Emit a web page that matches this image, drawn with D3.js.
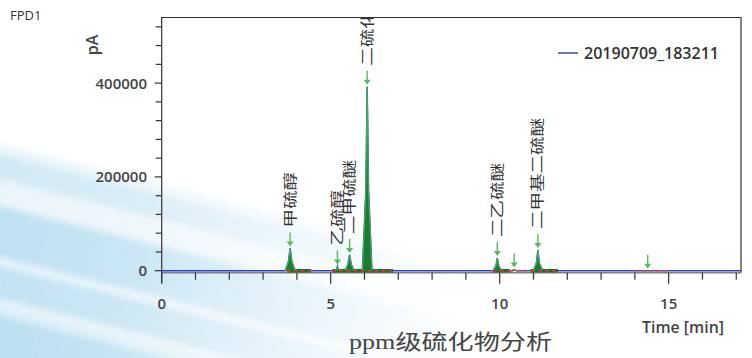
<!DOCTYPE html>
<html><head><meta charset="utf-8">
<script src="https://cdn.jsdelivr.net/npm/d3@7"></script>
<style>
html,body{margin:0;padding:0;background:#fff;}
svg{display:block;}
</style></head>
<body>
<svg id="chart" width="752" height="358"></svg>
<script>
// ---------- data ----------
const signalTimes  = [0, 3.66, 3.75, 3.80, 3.85, 3.95, 5.12, 5.18, 5.20, 5.22, 5.29, 5.43, 5.51, 5.56, 5.61, 5.69, 5.94, 6.04, 6.08, 6.12, 6.22, 9.81, 9.89, 9.93, 9.97, 10.05, 10.37, 10.43, 10.49, 11.00, 11.09, 11.13, 11.17, 11.27, 17.14];
const signalValues = [0, 0, 19000, 47500, 19000, 0, 0, 3500, 9000, 3500, 0, 0, 13000, 33500, 13000, 0, 0, 170000, 392000, 170000, 0, 0, 10500, 27000, 10500, 0, 0, 2500, 0, 0, 17000, 44000, 17000, 0, 0];

const peakTimes   = [3.80, 5.20, 5.56, 6.08, 9.93, 10.43, 11.13, 14.38];
const peakHeights = [47500, 9000, 33500, 392000, 27000, 2500, 44000, 0];
const peakNames   = ["甲硫醇", "乙硫醇", "二甲硫醚", "二硫化碳", "二乙硫醚", "", "二甲基二硫醚", ""];

const integStart = [3.70, 5.05, 9.80, 10.30, 10.92, 14.00];
const integEnd   = [4.42, 6.85, 10.30, 10.80, 11.72, 15.02];
const integGreen = [true, true, true, false, true, false];

const xTickValues = [0, 5, 10, 15];
const yTickValues = [0, 200000, 400000];
const seriesName = "20190709_183211";
const xTitle = "Time [min]";
const yTitle = "pA";
const detector = "FPD1";
const caption = "ppm级硫化物分析";

// ---------- layout ----------
const W = 752, H = 358;
const svg = d3.select("#chart");
const pLeft = 161.7, pRight = 741, pTop = 17, base = 270.7;
const x = d3.scaleLinear().domain([0, 17.14]).range([pLeft, pRight]);
const y = d3.scaleLinear().domain([0, 541000]).range([base, pTop]);
const font = "'Open Sans', 'DejaVu Sans', sans-serif";
const cjk = "'Noto Sans CJK SC', 'Noto Sans', sans-serif";

// ---------- background streaks ----------
const defs = svg.append("defs");
const g1 = defs.append("linearGradient").attr("id","streak").attr("gradientUnits","userSpaceOnUse")
  .attr("x1",-20).attr("y1",0).attr("x2",560).attr("y2",0);
g1.append("stop").attr("offset",0).attr("stop-color","#b3dbef").attr("stop-opacity",1);
g1.append("stop").attr("offset",0.35).attr("stop-color","#bde0f1").attr("stop-opacity",0.85);
g1.append("stop").attr("offset",0.7).attr("stop-color","#d3eaf5").attr("stop-opacity",0.4);
g1.append("stop").attr("offset",1).attr("stop-color","#e6f3f9").attr("stop-opacity",0);
const blur = defs.append("filter").attr("id","soft").attr("x","-20%").attr("y","-50%").attr("width","140%").attr("height","200%");
blur.append("feGaussianBlur").attr("stdDeviation",3);

const bg = svg.append("g").attr("transform","rotate(14)").attr("filter","url(#soft)");
const bandY = [140, 150, 200, 258, 296, 306];
const bandH = [260, 24, 50, 32, 8, 120];
const bandO = [0.3, 0.5, 0.9, 0.85, 0.35, 1];
bandY.forEach((by,i)=>{
  bg.append("rect").attr("x",-80).attr("y",by).attr("width",720).attr("height",bandH[i])
    .attr("fill","url(#streak)").attr("opacity",bandO[i]);
});

// ---------- clip ----------
defs.append("clipPath").attr("id","plotClip").append("rect")
  .attr("x",pLeft).attr("y",pTop).attr("width",pRight-pLeft).attr("height",H-pTop);

// ---------- axes ----------
const axisColor = "#333";
svg.append("line").attr("x1",pLeft).attr("x2",pRight).attr("y1",pTop+0.5).attr("y2",pTop+0.5).attr("stroke",axisColor).attr("stroke-width",1.2);
svg.append("line").attr("x1",pRight).attr("x2",pRight).attr("y1",pTop).attr("y2",base+2).attr("stroke",axisColor).attr("stroke-width",1.2);

// x axis
const xAxisY = base + 2;
svg.append("line").attr("x1",pLeft).attr("x2",pRight).attr("y1",xAxisY).attr("y2",xAxisY).attr("stroke","#808080").attr("stroke-width",1.6);
const xMinor = d3.range(0, 18, 1).filter(v=>v<=17.14);
const xAx = svg.append("g");
xAx.selectAll("line").data(xMinor).join("line")
  .attr("x1",d=>x(d)).attr("x2",d=>x(d))
  .attr("y1",xAxisY).attr("y2",d=> d%5===0 ? xAxisY+11 : xAxisY+7)
  .attr("stroke",axisColor).attr("stroke-width",1.2);
xAx.selectAll("text").data(xTickValues).join("text")
  .attr("x",d=>x(d)).attr("y",309).attr("text-anchor","middle")
  .attr("font-family",font).attr("font-size",15).attr("font-weight",600).attr("fill","#444").text(d=>d);

// y axis
svg.append("line").attr("x1",pLeft).attr("x2",pLeft).attr("y1",pTop).attr("y2",283).attr("stroke",axisColor).attr("stroke-width",1.2);
const yMinor = d3.range(0, 540000, 40000);
const yAx = svg.append("g");
yAx.selectAll("line").data(yMinor).join("line")
  .attr("x1",d=> d%200000===0 ? pLeft-7 : pLeft-6).attr("x2",pLeft)
  .attr("y1",d=>y(d)).attr("y2",d=>y(d)).attr("stroke",axisColor).attr("stroke-width",1.2);
yAx.selectAll("text").data(yTickValues).join("text")
  .attr("x",147).attr("y",d=>y(d)+5.5).attr("text-anchor","end")
  .attr("font-family",font).attr("font-size",15).attr("font-weight",600).attr("fill","#444").text(d=>d);

// titles
svg.append("text").attr("transform",`translate(98,45) rotate(-90)`).attr("text-anchor","middle")
  .attr("font-family",font).attr("font-size",16).attr("font-weight",600).attr("fill","#444").text(yTitle);
svg.append("text").attr("x",642).attr("y",333).attr("font-family",font).attr("font-size",15.5)
  .attr("font-weight",600).attr("fill","#444").attr("textLength",82).attr("lengthAdjust","spacingAndGlyphs").text(xTitle);
svg.append("text").attr("x",10).attr("y",20).attr("font-family",font).attr("font-size",13)
  .attr("fill","#333").text(detector);

// ---------- signal ----------
const plot = svg.append("g").attr("clip-path","url(#plotClip)");
const pts = signalTimes.map((t,i)=>[t, signalValues[i]]);
plot.append("path").datum(pts)
  .attr("d", d3.line().x(d=>x(d[0])).y(d=>y(d[1])))
  .attr("fill","none").attr("stroke","#2f3fd0").attr("stroke-width",1.5);

integStart.forEach((s,i)=>{
  if (integGreen[i]) {
    plot.append("line").attr("x1",x(s)).attr("x2",x(integEnd[i])).attr("y1",base).attr("y2",base)
      .attr("stroke","#1f6b2c").attr("stroke-width",3.5);
  }
});

// split signal into peak segments (zero -> nonzero ... -> zero)
const segments = [];
let cur = null;
pts.forEach((p,i)=>{
  if (p[1] > 0) {
    if (!cur) { cur = [pts[i-1]]; }
    cur.push(p);
  } else if (cur) {
    cur.push(p); segments.push(cur); cur = null;
  }
});
const peakArea = d3.area().x(d=>x(d[0])).y0(y(0)).y1(d=>y(d[1]));
const peakLine = d3.line().x(d=>x(d[0])).y(d=>y(d[1]));
segments.forEach(seg=>{
  plot.append("path").datum(seg).attr("d", peakArea).attr("fill","#1d7a33");
  plot.append("path").datum(seg).attr("d", peakLine).attr("fill","none")
    .attr("stroke","#45a85a").attr("stroke-width",1.2).attr("stroke-linejoin","round");
});

integStart.forEach((s,i)=>{
  plot.append("line").attr("x1",x(s)).attr("x2",x(integEnd[i])).attr("y1",base).attr("y2",base)
    .attr("stroke","#e23b3b").attr("stroke-width",1.6).attr("stroke-dasharray","4,3");
});

const arrowColor = "#5cb860";
peakTimes.forEach((t,i)=>{
  const ax = x(t), ay = y(peakHeights[i]) - 2;
  plot.append("line").attr("x1",ax).attr("x2",ax).attr("y1",ay-14).attr("y2",ay-3)
    .attr("stroke",arrowColor).attr("stroke-width",1.4);
  plot.append("path").attr("d",`M${ax-3.5},${ay-5} L${ax+3.5},${ay-5} L${ax},${ay} Z`).attr("fill",arrowColor);
  if (peakNames[i]) {
    const n = peakNames[i].length;
    plot.append("text").attr("transform",`translate(${ax+4.5},${ay-19}) rotate(-90)`)
      .attr("font-family",cjk).attr("font-size",13.5).attr("fill","#333")
      .attr("textLength", n*18.5).attr("lengthAdjust","spacingAndGlyphs")
      .text(peakNames[i]);
  }
});

// legend
svg.append("line").attr("x1",558).attr("x2",578).attr("y1",53).attr("y2",53).attr("stroke","#7373c6").attr("stroke-width",2);
svg.append("text").attr("x",584).attr("y",58.5).attr("font-family",font).attr("font-size",16).attr("font-weight",600)
  .attr("fill","#333").attr("textLength",135).attr("lengthAdjust","spacingAndGlyphs").text(seriesName);

// caption
svg.append("text").attr("x",349).attr("y",349).attr("font-family","'Liberation Serif', 'Noto Sans CJK SC', serif")
  .attr("font-size",21).attr("fill","#444").attr("textLength",203).attr("lengthAdjust","spacingAndGlyphs").text(caption);
</script>
</body></html>
